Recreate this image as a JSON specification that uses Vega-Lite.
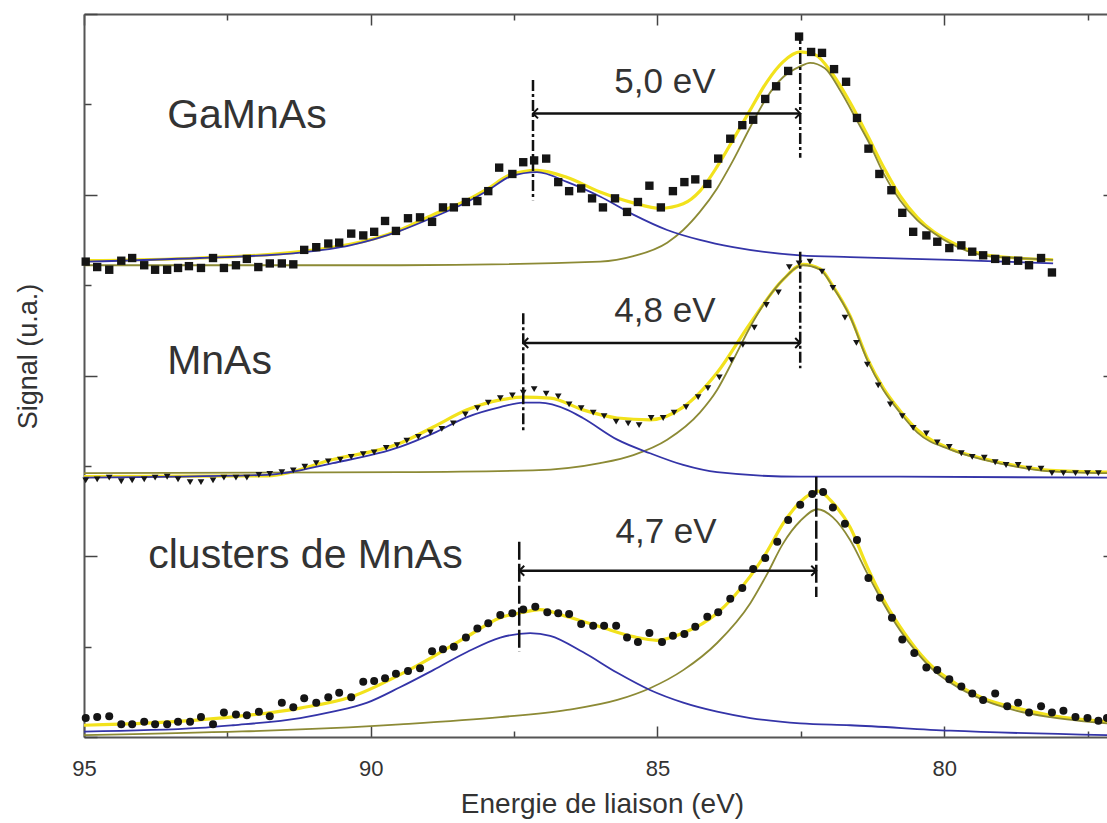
{
  "$schema": "https://vega.github.io/schema/vega-lite/v6.json",
  "width": 1023,
  "height": 723,
  "autosize": {"type": "none"},
  "padding": {"left": 84, "top": 14, "right": 0, "bottom": 86},
  "background": "white",
  "config": {"view": {"stroke": null}, "font": "Liberation Sans"},
  "datasets": {
    "yellow": [
      {"p":"t","x":95.00,"y":5.27},{"p":"t","x":93.0,"y":5.30},{"p":"t","x":91.23,"y":5.37},{"p":"t","x":89.49,"y":5.61},{"p":"t","x":88.91,"y":5.78},{"p":"t","x":88.32,"y":5.94},{"p":"t","x":87.95,"y":6.07},{"p":"t","x":87.57,"y":6.22},{"p":"t","x":87.10,"y":6.27},{"p":"t","x":86.57,"y":6.19},{"p":"t","x":86.00,"y":6.03},{"p":"t","x":85.42,"y":5.91},{"p":"t","x":84.95,"y":5.85},{"p":"t","x":84.55,"y":5.90},{"p":"t","x":84.26,"y":6.04},{"p":"t","x":83.96,"y":6.31},{"p":"t","x":83.68,"y":6.61},{"p":"t","x":83.38,"y":6.94},{"p":"t","x":83.09,"y":7.25},{"p":"t","x":82.81,"y":7.47},{"p":"t","x":82.51,"y":7.58},{"p":"t","x":82.25,"y":7.55},{"p":"t","x":81.94,"y":7.33},{"p":"t","x":81.64,"y":7.02},{"p":"t","x":81.34,"y":6.66},{"p":"t","x":81.06,"y":6.31},{"p":"t","x":80.77,"y":5.99},{"p":"t","x":80.47,"y":5.75},{"p":"t","x":79.89,"y":5.48},{"p":"t","x":79.32,"y":5.34},{"p":"t","x":78.73,"y":5.30},{"p":"t","x":78.10,"y":5.28},
      {"p":"m","x":95.00,"y":2.88},{"p":"m","x":91.81,"y":2.89},{"p":"m","x":90.66,"y":3.07},{"p":"m","x":89.49,"y":3.25},{"p":"m","x":88.91,"y":3.43},{"p":"m","x":88.32,"y":3.62},{"p":"m","x":87.74,"y":3.73},{"p":"m","x":87.34,"y":3.76},{"p":"m","x":86.87,"y":3.75},{"p":"m","x":86.30,"y":3.62},{"p":"m","x":85.70,"y":3.53},{"p":"m","x":85.13,"y":3.51},{"p":"m","x":84.55,"y":3.65},{"p":"m","x":83.96,"y":4.03},{"p":"m","x":83.38,"y":4.58},{"p":"m","x":82.81,"y":5.06},{"p":"m","x":82.46,"y":5.23},{"p":"m","x":82.16,"y":5.18},{"p":"m","x":81.94,"y":4.99},{"p":"m","x":81.64,"y":4.66},{"p":"m","x":81.34,"y":4.19},{"p":"m","x":81.06,"y":3.86},{"p":"m","x":80.77,"y":3.61},{"p":"m","x":80.47,"y":3.40},{"p":"m","x":79.89,"y":3.19},{"p":"m","x":79.32,"y":3.08},{"p":"m","x":78.73,"y":3.00},{"p":"m","x":78.15,"y":2.95},{"p":"m","x":77.16,"y":2.93},
      {"p":"b","x":95.00,"y":0.13},{"p":"b","x":92.98,"y":0.19},{"p":"b","x":91.23,"y":0.32},{"p":"b","x":90.36,"y":0.44},{"p":"b","x":89.49,"y":0.69},{"p":"b","x":88.91,"y":0.89},{"p":"b","x":88.32,"y":1.11},{"p":"b","x":87.74,"y":1.32},{"p":"b","x":87.34,"y":1.38},{"p":"b","x":87.05,"y":1.41},{"p":"b","x":86.57,"y":1.33},{"p":"b","x":86.00,"y":1.22},{"p":"b","x":85.42,"y":1.11},{"p":"b","x":85.01,"y":1.07},{"p":"b","x":84.55,"y":1.15},{"p":"b","x":83.96,"y":1.37},{"p":"b","x":83.38,"y":1.78},{"p":"b","x":83.09,"y":2.05},{"p":"b","x":82.81,"y":2.36},{"p":"b","x":82.51,"y":2.60},{"p":"b","x":82.20,"y":2.72},{"p":"b","x":81.94,"y":2.59},{"p":"b","x":81.64,"y":2.32},{"p":"b","x":81.34,"y":1.88},{"p":"b","x":81.06,"y":1.52},{"p":"b","x":80.77,"y":1.22},{"p":"b","x":80.47,"y":0.96},{"p":"b","x":80.19,"y":0.77},{"p":"b","x":79.89,"y":0.63},{"p":"b","x":79.32,"y":0.43},{"p":"b","x":78.73,"y":0.32},{"p":"b","x":78.15,"y":0.24},{"p":"b","x":77.16,"y":0.17}
    ],
    "green": [
      {"p":"t","x":95.00,"y":5.22},{"p":"t","x":89.49,"y":5.22},{"p":"t","x":86.00,"y":5.26},{"p":"t","x":85.42,"y":5.32},{"p":"t","x":84.83,"y":5.47},{"p":"t","x":84.55,"y":5.61},{"p":"t","x":84.26,"y":5.81},{"p":"t","x":83.96,"y":6.07},{"p":"t","x":83.68,"y":6.38},{"p":"t","x":83.38,"y":6.75},{"p":"t","x":83.09,"y":7.08},{"p":"t","x":82.81,"y":7.30},{"p":"t","x":82.51,"y":7.42},{"p":"t","x":82.34,"y":7.46},{"p":"t","x":82.08,"y":7.40},{"p":"t","x":81.81,"y":7.15},{"p":"t","x":81.52,"y":6.82},{"p":"t","x":81.29,"y":6.55},{"p":"t","x":81.06,"y":6.24},{"p":"t","x":80.77,"y":5.94},{"p":"t","x":80.47,"y":5.72},{"p":"t","x":80.19,"y":5.58},{"p":"t","x":79.89,"y":5.46},{"p":"t","x":79.32,"y":5.33},{"p":"t","x":78.73,"y":5.30},{"p":"t","x":78.10,"y":5.28},
      {"p":"m","x":95.00,"y":2.92},{"p":"m","x":89.49,"y":2.93},{"p":"m","x":87.17,"y":2.95},{"p":"m","x":86.00,"y":3.03},{"p":"m","x":85.42,"y":3.12},{"p":"m","x":84.83,"y":3.29},{"p":"m","x":84.26,"y":3.59},{"p":"m","x":83.96,"y":3.84},{"p":"m","x":83.68,"y":4.17},{"p":"m","x":83.38,"y":4.54},{"p":"m","x":83.09,"y":4.84},{"p":"m","x":82.81,"y":5.06},{"p":"m","x":82.46,"y":5.22},{"p":"m","x":82.16,"y":5.17},{"p":"m","x":81.94,"y":4.98},{"p":"m","x":81.64,"y":4.65},{"p":"m","x":81.34,"y":4.17},{"p":"m","x":81.06,"y":3.84},{"p":"m","x":80.77,"y":3.59},{"p":"m","x":80.47,"y":3.37},{"p":"m","x":79.89,"y":3.18},{"p":"m","x":79.32,"y":3.07},{"p":"m","x":78.73,"y":2.99},{"p":"m","x":78.15,"y":2.94},{"p":"m","x":77.16,"y":2.92},
      {"p":"b","x":95.00,"y":0.02},{"p":"b","x":89.49,"y":0.14},{"p":"b","x":87.74,"y":0.22},{"p":"b","x":86.57,"y":0.30},{"p":"b","x":85.70,"y":0.41},{"p":"b","x":85.13,"y":0.54},{"p":"b","x":84.55,"y":0.74},{"p":"b","x":83.96,"y":1.04},{"p":"b","x":83.38,"y":1.48},{"p":"b","x":83.09,"y":1.80},{"p":"b","x":82.81,"y":2.14},{"p":"b","x":82.51,"y":2.39},{"p":"b","x":82.21,"y":2.52},{"p":"b","x":81.94,"y":2.43},{"p":"b","x":81.64,"y":2.18},{"p":"b","x":81.34,"y":1.81},{"p":"b","x":81.06,"y":1.48},{"p":"b","x":80.77,"y":1.18},{"p":"b","x":80.47,"y":0.93},{"p":"b","x":80.19,"y":0.74},{"p":"b","x":79.89,"y":0.60},{"p":"b","x":79.32,"y":0.41},{"p":"b","x":78.73,"y":0.29},{"p":"b","x":78.15,"y":0.22},{"p":"b","x":77.16,"y":0.15}
    ],
    "blue": [
      {"p":"t","x":95.00,"y":5.26},{"p":"t","x":92.98,"y":5.30},{"p":"t","x":91.23,"y":5.36},{"p":"t","x":90.36,"y":5.44},{"p":"t","x":89.49,"y":5.60},{"p":"t","x":88.91,"y":5.75},{"p":"t","x":88.32,"y":5.92},{"p":"t","x":87.95,"y":6.05},{"p":"t","x":87.57,"y":6.20},{"p":"t","x":87.10,"y":6.25},{"p":"t","x":86.57,"y":6.14},{"p":"t","x":86.00,"y":5.98},{"p":"t","x":85.42,"y":5.78},{"p":"t","x":84.83,"y":5.61},{"p":"t","x":84.26,"y":5.50},{"p":"t","x":83.68,"y":5.42},{"p":"t","x":82.51,"y":5.33},{"p":"t","x":81.64,"y":5.31},{"p":"t","x":79.89,"y":5.28},{"p":"t","x":78.10,"y":5.24},
      {"p":"m","x":95.00,"y":2.87},{"p":"m","x":91.81,"y":2.90},{"p":"m","x":90.66,"y":3.03},{"p":"m","x":89.49,"y":3.21},{"p":"m","x":88.91,"y":3.36},{"p":"m","x":88.32,"y":3.54},{"p":"m","x":87.74,"y":3.65},{"p":"m","x":87.34,"y":3.70},{"p":"m","x":87.05,"y":3.70},{"p":"m","x":86.57,"y":3.62},{"p":"m","x":86.30,"y":3.53},{"p":"m","x":85.70,"y":3.29},{"p":"m","x":85.13,"y":3.14},{"p":"m","x":84.55,"y":3.01},{"p":"m","x":83.96,"y":2.93},{"p":"m","x":82.51,"y":2.88},{"p":"m","x":80.77,"y":2.88},{"p":"m","x":77.16,"y":2.87},
      {"p":"b","x":95.00,"y":0.06},{"p":"b","x":92.98,"y":0.10},{"p":"b","x":92.40,"y":0.13},{"p":"b","x":91.23,"y":0.21},{"p":"b","x":90.66,"y":0.28},{"p":"b","x":90.06,"y":0.38},{"p":"b","x":89.49,"y":0.55},{"p":"b","x":88.91,"y":0.74},{"p":"b","x":88.32,"y":0.94},{"p":"b","x":87.74,"y":1.10},{"p":"b","x":87.22,"y":1.15},{"p":"b","x":86.87,"y":1.12},{"p":"b","x":86.30,"y":0.94},{"p":"b","x":85.70,"y":0.71},{"p":"b","x":85.13,"y":0.52},{"p":"b","x":84.55,"y":0.38},{"p":"b","x":83.96,"y":0.28},{"p":"b","x":83.38,"y":0.21},{"p":"b","x":82.51,"y":0.15},{"p":"b","x":81.64,"y":0.13},{"p":"b","x":79.89,"y":0.07},{"p":"b","x":77.16,"y":0.02}
    ],
    "sq": [
      {"x":94.97,"y":5.26},{"x":94.77,"y":5.20},{"x":94.56,"y":5.17},{"x":94.35,"y":5.27},{"x":94.16,"y":5.30},{"x":93.95,"y":5.22},{"x":93.76,"y":5.17},{"x":93.55,"y":5.17},{"x":93.36,"y":5.19},{"x":93.17,"y":5.21},{"x":92.96,"y":5.19},{"x":92.75,"y":5.30},{"x":92.56,"y":5.19},{"x":92.35,"y":5.22},{"x":92.16,"y":5.29},{"x":91.96,"y":5.20},{"x":91.76,"y":5.24},{"x":91.55,"y":5.24},{"x":91.35,"y":5.23},{"x":91.16,"y":5.39},{"x":90.95,"y":5.42},{"x":90.74,"y":5.46},{"x":90.55,"y":5.47},{"x":90.34,"y":5.57},{"x":90.13,"y":5.55},{"x":89.94,"y":5.59},{"x":89.75,"y":5.71},{"x":89.56,"y":5.60},{"x":89.35,"y":5.74},{"x":89.14,"y":5.75},{"x":88.93,"y":5.70},{"x":88.74,"y":5.86},{"x":88.55,"y":5.86},{"x":88.34,"y":5.92},{"x":88.14,"y":5.93},{"x":87.95,"y":6.04},{"x":87.76,"y":6.30},{"x":87.53,"y":6.23},{"x":87.34,"y":6.36},{"x":87.15,"y":6.38},{"x":86.94,"y":6.40},{"x":86.73,"y":6.14},{"x":86.54,"y":6.04},{"x":86.33,"y":6.07},{"x":86.14,"y":5.96},{"x":85.95,"y":5.86},{"x":85.74,"y":5.96},{"x":85.53,"y":5.81},{"x":85.34,"y":5.92},{"x":85.14,"y":6.10},{"x":84.94,"y":5.86},{"x":84.73,"y":6.04},{"x":84.53,"y":6.14},{"x":84.34,"y":6.17},{"x":84.13,"y":6.12},{"x":83.94,"y":6.40},{"x":83.73,"y":6.62},{"x":83.52,"y":6.77},{"x":83.33,"y":6.83},{"x":83.12,"y":7.06},{"x":82.93,"y":7.20},{"x":82.72,"y":7.37},{"x":82.53,"y":7.75},{"x":82.32,"y":7.58},{"x":82.13,"y":7.57},{"x":81.92,"y":7.39},{"x":81.71,"y":7.25},{"x":81.52,"y":6.85},{"x":81.32,"y":6.51},{"x":81.13,"y":6.23},{"x":80.92,"y":6.05},{"x":80.73,"y":5.80},{"x":80.54,"y":5.59},{"x":80.31,"y":5.55},{"x":80.12,"y":5.48},{"x":79.91,"y":5.41},{"x":79.70,"y":5.44},{"x":79.51,"y":5.37},{"x":79.32,"y":5.33},{"x":79.11,"y":5.29},{"x":78.92,"y":5.27},{"x":78.71,"y":5.27},{"x":78.52,"y":5.22},{"x":78.31,"y":5.30},{"x":78.12,"y":5.14}
    ],
    "tri": [
      {"x":94.97,"y":2.84},{"x":94.77,"y":2.85},{"x":94.56,"y":2.87},{"x":94.35,"y":2.83},{"x":94.16,"y":2.84},{"x":93.95,"y":2.85},{"x":93.76,"y":2.87},{"x":93.55,"y":2.88},{"x":93.36,"y":2.85},{"x":93.15,"y":2.82},{"x":92.96,"y":2.82},{"x":92.75,"y":2.84},{"x":92.56,"y":2.87},{"x":92.35,"y":2.87},{"x":92.16,"y":2.87},{"x":91.95,"y":2.90},{"x":91.76,"y":2.91},{"x":91.55,"y":2.93},{"x":91.35,"y":2.95},{"x":91.15,"y":2.99},{"x":90.95,"y":3.03},{"x":90.74,"y":3.05},{"x":90.53,"y":3.07},{"x":90.34,"y":3.10},{"x":90.13,"y":3.13},{"x":89.94,"y":3.15},{"x":89.73,"y":3.20},{"x":89.54,"y":3.23},{"x":89.37,"y":3.28},{"x":89.17,"y":3.32},{"x":88.96,"y":3.37},{"x":88.76,"y":3.41},{"x":88.56,"y":3.47},{"x":88.35,"y":3.57},{"x":88.14,"y":3.64},{"x":87.95,"y":3.70},{"x":87.74,"y":3.75},{"x":87.53,"y":3.78},{"x":87.34,"y":3.81},{"x":87.15,"y":3.85},{"x":86.94,"y":3.80},{"x":86.73,"y":3.77},{"x":86.54,"y":3.68},{"x":86.33,"y":3.64},{"x":86.12,"y":3.59},{"x":85.93,"y":3.55},{"x":85.72,"y":3.49},{"x":85.51,"y":3.47},{"x":85.32,"y":3.45},{"x":85.11,"y":3.53},{"x":84.90,"y":3.53},{"x":84.71,"y":3.59},{"x":84.50,"y":3.65},{"x":84.29,"y":3.76},{"x":84.12,"y":3.86},{"x":83.92,"y":3.98},{"x":83.71,"y":4.17},{"x":83.51,"y":4.34},{"x":83.31,"y":4.53},{"x":83.10,"y":4.78},{"x":82.89,"y":4.92},{"x":82.70,"y":5.20},{"x":82.53,"y":5.24},{"x":82.34,"y":5.26},{"x":82.13,"y":5.15},{"x":81.94,"y":4.97},{"x":81.73,"y":4.64},{"x":81.53,"y":4.36},{"x":81.34,"y":4.12},{"x":81.15,"y":3.89},{"x":80.94,"y":3.68},{"x":80.73,"y":3.55},{"x":80.54,"y":3.42},{"x":80.31,"y":3.36},{"x":80.12,"y":3.26},{"x":79.91,"y":3.21},{"x":79.70,"y":3.14},{"x":79.51,"y":3.10},{"x":79.30,"y":3.09},{"x":79.11,"y":3.04},{"x":78.92,"y":3.01},{"x":78.71,"y":3.01},{"x":78.52,"y":2.97},{"x":78.31,"y":2.97},{"x":78.12,"y":2.92},{"x":77.92,"y":2.92},{"x":77.71,"y":2.92},{"x":77.50,"y":2.92},{"x":77.31,"y":2.92}
    ],
    "circ": [
      {"x":94.97,"y":0.21},{"x":94.77,"y":0.22},{"x":94.56,"y":0.23},{"x":94.35,"y":0.14},{"x":94.16,"y":0.14},{"x":93.95,"y":0.17},{"x":93.76,"y":0.14},{"x":93.55,"y":0.14},{"x":93.36,"y":0.17},{"x":93.15,"y":0.17},{"x":92.96,"y":0.22},{"x":92.75,"y":0.14},{"x":92.56,"y":0.27},{"x":92.35,"y":0.25},{"x":92.16,"y":0.24},{"x":91.95,"y":0.28},{"x":91.76,"y":0.23},{"x":91.55,"y":0.38},{"x":91.35,"y":0.33},{"x":91.16,"y":0.43},{"x":90.95,"y":0.38},{"x":90.74,"y":0.44},{"x":90.55,"y":0.49},{"x":90.34,"y":0.44},{"x":90.13,"y":0.61},{"x":89.94,"y":0.62},{"x":89.75,"y":0.65},{"x":89.56,"y":0.70},{"x":89.35,"y":0.73},{"x":89.14,"y":0.76},{"x":88.93,"y":0.95},{"x":88.74,"y":0.97},{"x":88.55,"y":1.00},{"x":88.34,"y":1.10},{"x":88.14,"y":1.20},{"x":87.95,"y":1.26},{"x":87.74,"y":1.35},{"x":87.53,"y":1.37},{"x":87.34,"y":1.41},{"x":87.13,"y":1.44},{"x":86.92,"y":1.38},{"x":86.73,"y":1.37},{"x":86.54,"y":1.36},{"x":86.33,"y":1.25},{"x":86.12,"y":1.23},{"x":85.93,"y":1.23},{"x":85.72,"y":1.23},{"x":85.53,"y":1.10},{"x":85.34,"y":1.05},{"x":85.14,"y":1.15},{"x":84.92,"y":1.05},{"x":84.73,"y":1.12},{"x":84.53,"y":1.14},{"x":84.34,"y":1.22},{"x":84.13,"y":1.33},{"x":83.94,"y":1.38},{"x":83.73,"y":1.53},{"x":83.52,"y":1.65},{"x":83.33,"y":1.86},{"x":83.12,"y":1.98},{"x":82.91,"y":2.16},{"x":82.72,"y":2.40},{"x":82.51,"y":2.57},{"x":82.30,"y":2.69},{"x":82.11,"y":2.71},{"x":81.94,"y":2.54},{"x":81.73,"y":2.36},{"x":81.52,"y":2.18},{"x":81.32,"y":1.76},{"x":81.12,"y":1.54},{"x":80.91,"y":1.32},{"x":80.73,"y":1.08},{"x":80.52,"y":0.93},{"x":80.31,"y":0.77},{"x":80.12,"y":0.74},{"x":79.91,"y":0.64},{"x":79.70,"y":0.56},{"x":79.51,"y":0.48},{"x":79.32,"y":0.41},{"x":79.11,"y":0.48},{"x":78.90,"y":0.34},{"x":78.71,"y":0.38},{"x":78.52,"y":0.27},{"x":78.31,"y":0.34},{"x":78.12,"y":0.27},{"x":77.92,"y":0.29},{"x":77.71,"y":0.22},{"x":77.50,"y":0.21},{"x":77.31,"y":0.18},{"x":77.16,"y":0.21}
    ],
    "dash": [
      {"p":"t","x":87.17,"y1":7.27,"y2":5.94},{"p":"t","x":82.51,"y1":7.79,"y2":6.41},
      {"p":"m","x":87.34,"y1":4.69,"y2":3.36},{"p":"m","x":82.51,"y1":5.37,"y2":4.08},
      {"p":"b","x":87.41,"y1":2.16,"y2":0.94},{"p":"b","x":82.23,"y1":2.88,"y2":1.55}
    ],
    "arrows": [
      {"x1":87.17,"x2":82.51,"y":6.90},
      {"x1":87.34,"x2":82.51,"y":4.36},
      {"x1":87.41,"x2":82.23,"y":1.84}
    ],
    "names": [
      {"t":"GaMnAs","x":93.55,"y":6.74},
      {"t":"MnAs","x":93.55,"y":4.02},
      {"t":"clusters de MnAs","x":93.88,"y":1.87}
    ],
    "evs": [
      {"t":"5,0 eV","x":84.87,"y":7.13},
      {"t":"4,8 eV","x":84.87,"y":4.59},
      {"t":"4,7 eV","x":84.85,"y":2.15}
    ]
  },
  "encoding": {
    "x": {"field": "x", "type": "quantitative", "scale": {"domain": [95, 77.16], "nice": false, "zero": false}, "axis": null},
    "y": {"field": "y", "type": "quantitative", "scale": {"domain": [0, 8], "nice": false, "zero": false}, "axis": null}
  },
  "layer": [
    {
      "data": {"name": "yellow"},
      "mark": {"type": "line", "color": "#f2e21c", "strokeWidth": 3.2, "interpolate": "monotone"},
      "encoding": {
        "detail": {"field": "p"},
        "x": {"field": "x", "type": "quantitative", "axis": {
          "orient": "bottom", "values": [95, 92.5, 90, 87.5, 85, 82.5, 80, 77.5],
          "labelExpr": "datum.value % 5 === 0 ? format(datum.value, 'd') : ''",
          "labelFontSize": 22, "labelColor": "#333", "labelPadding": 32, "labelFlush": false, "labelOverlap": false,
          "tickSize": {"condition": {"test": "datum.value % 5 === 0", "value": -11}, "value": -6},
          "tickColor": "#444", "tickWidth": 1.5, "domainColor": "#555", "domainWidth": 2, "grid": false,
          "title": "Energie de liaison (eV)", "titleFontSize": 28, "titleFontWeight": "normal", "titleColor": "#333",
          "titleY": 75, "titleBaseline": "alphabetic", "titleX": 518
        }},
        "y": {"field": "y", "type": "quantitative", "axis": {
          "orient": "left", "values": [0, 1, 2, 3, 4, 5, 6, 7, 8], "labels": false,
          "tickSize": {"condition": {"test": "datum.value % 2 === 0", "value": -13}, "value": -7},
          "tickColor": "#444", "tickWidth": 1.5, "domainColor": "#555", "domainWidth": 2, "grid": false,
          "title": "Signal (u.a.)", "titleFontSize": 27, "titleFontWeight": "normal", "titleColor": "#333",
          "titleX": -56, "titleY": 342, "titleAngle": 270, "titleBaseline": "middle", "titleAlign": "center"
        }}
      }
    },
    {
      "data": {"name": "green"},
      "mark": {"type": "line", "color": "#8c8a35", "strokeWidth": 1.8, "interpolate": "monotone"},
      "encoding": {
        "detail": {"field": "p"},
        "x": {"field": "x", "type": "quantitative", "axis": {
          "orient": "top", "values": [95, 92.5, 90, 87.5, 85, 82.5, 80, 77.5], "labels": false,
          "tickSize": {"condition": {"test": "datum.value % 5 === 0", "value": -11}, "value": -6},
          "tickColor": "#444", "tickWidth": 1.5, "domainColor": "#555", "domainWidth": 2, "grid": false, "title": null
        }},
        "y": {"field": "y", "type": "quantitative", "axis": {
          "orient": "right", "values": [2, 4, 6], "labels": false, "domain": false,
          "tickSize": -4, "tickColor": "#444", "tickWidth": 1.5, "grid": false, "title": null
        }}
      }
    },
    {
      "data": {"name": "blue"},
      "mark": {"type": "line", "color": "#3434a8", "strokeWidth": 1.8, "interpolate": "monotone"},
      "encoding": {"detail": {"field": "p"}}
    },
    {
      "data": {"name": "sq"},
      "mark": {"type": "point", "shape": "square", "filled": true, "color": "#151515", "opacity": 1, "size": 70}
    },
    {
      "data": {"name": "tri"},
      "mark": {"type": "point", "shape": "triangle-down", "filled": true, "color": "#151515", "opacity": 1, "size": 45}
    },
    {
      "data": {"name": "circ"},
      "mark": {"type": "point", "shape": "circle", "filled": true, "color": "#151515", "opacity": 1, "size": 64}
    },
    {
      "data": {"name": "dash"},
      "transform": [{"filter": "datum.p !== 'b'"}],
      "mark": {"type": "rule", "color": "#111", "strokeWidth": 2.5, "strokeDash": [11, 3, 3, 3]},
      "encoding": {
        "y": {"field": "y1", "type": "quantitative", "axis": null},
        "y2": {"field": "y2"}
      }
    },
    {
      "data": {"name": "dash"},
      "transform": [{"filter": "datum.p === 'b'"}],
      "mark": {"type": "rule", "color": "#111", "strokeWidth": 2.5, "strokeDash": [18, 4]},
      "encoding": {
        "y": {"field": "y1", "type": "quantitative", "axis": null},
        "y2": {"field": "y2"}
      }
    },
    {
      "data": {"name": "arrows"},
      "mark": {"type": "rule", "color": "#111", "strokeWidth": 2.5},
      "encoding": {
        "x": {"field": "x1", "type": "quantitative", "axis": null},
        "x2": {"field": "x2"}
      }
    },
    {
      "data": {"name": "arrows"},
      "mark": {"type": "point", "shape": "M1,-1L0,0L1,1", "filled": false, "stroke": "#111", "strokeWidth": 2, "opacity": 1, "size": 100},
      "encoding": {
        "x": {"field": "x1", "type": "quantitative", "axis": null}
      }
    },
    {
      "data": {"name": "arrows"},
      "mark": {"type": "point", "shape": "M-1,-1L0,0L-1,1", "filled": false, "stroke": "#111", "strokeWidth": 2, "opacity": 1, "size": 100},
      "encoding": {
        "x": {"field": "x2", "type": "quantitative", "axis": null}
      }
    },
    {
      "data": {"name": "names"},
      "mark": {"type": "text", "align": "left", "baseline": "alphabetic", "fontSize": 41, "color": "#333", "font": "Liberation Sans"},
      "encoding": {"text": {"field": "t"}}
    },
    {
      "data": {"name": "evs"},
      "mark": {"type": "text", "align": "center", "baseline": "alphabetic", "fontSize": 35, "color": "#333", "font": "Liberation Sans"},
      "encoding": {"text": {"field": "t"}}
    }
  ],
  "resolve": {"axis": {"x": "independent", "y": "independent"}}
}
